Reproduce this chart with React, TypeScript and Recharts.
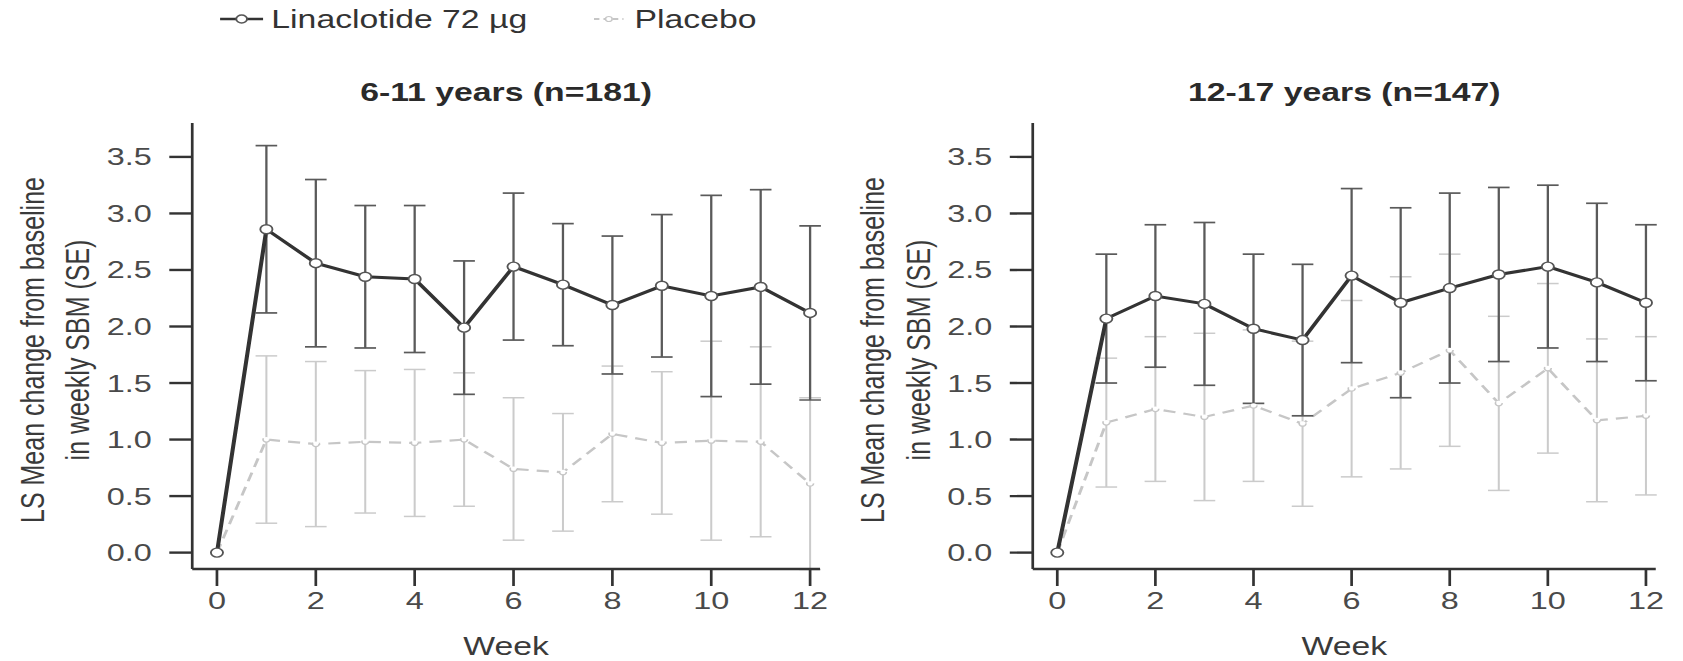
import React from 'react'
import { LineChart, Line, XAxis, YAxis, ErrorBar } from 'recharts'

const weeks = [0, 1, 2, 3, 4, 5, 6, 7, 8, 9, 10, 11, 12]

// 6-11 years (n=181)
const linaYoung = [0, 2.86, 2.56, 2.44, 2.42, 1.99, 2.53, 2.37, 2.19, 2.36, 2.27, 2.35, 2.12]
const linaYoungSE = [null, 0.74, 0.74, 0.63, 0.65, 0.59, 0.65, 0.54, 0.61, 0.63, 0.89, 0.86, 0.77]
const placeboYoung = [0, 1.0, 0.96, 0.98, 0.97, 1.0, 0.74, 0.71, 1.05, 0.97, 0.99, 0.98, 0.61]
const placeboYoungSE = [null, 0.74, 0.73, 0.63, 0.65, 0.59, 0.63, 0.52, 0.6, 0.63, 0.88, 0.84, 0.76]

// 12-17 years (n=147)
const linaOld = [0, 2.07, 2.27, 2.2, 1.98, 1.88, 2.45, 2.21, 2.34, 2.46, 2.53, 2.39, 2.21]
const linaOldSE = [null, 0.57, 0.63, 0.72, 0.66, 0.67, 0.77, 0.84, 0.84, 0.77, 0.72, 0.7, 0.69]
const placeboOld = [0, 1.15, 1.27, 1.2, 1.3, 1.14, 1.45, 1.59, 1.79, 1.32, 1.63, 1.17, 1.21]
const placeboOldSE = [null, 0.57, 0.64, 0.74, 0.67, 0.73, 0.78, 0.85, 0.85, 0.77, 0.75, 0.72, 0.7]

const xTicks = [0, 2, 4, 6, 8, 10, 12]
const yTicks = [0, 0.5, 1, 1.5, 2, 2.5, 3, 3.5]

// the reference figure is stretched sideways, so draw narrow and scale x
const STRETCH = 1.35
const W = 1683 / STRETCH
const H = 661
const FONT = '"Liberation Sans", Arial, Helvetica, sans-serif'
const PLOT_TOP = 123
const PLOT_BOTTOM = 569
const X_AXIS_H = 60
const Y_AXIS_W = 60

const build = (lina, linaSE, pbo, pboSE) =>
  weeks.map((w, i) => ({ week: w, lina: lina[i], linaSE: linaSE[i], pbo: pbo[i], pboSE: pboSE[i] }))

const youngData = build(linaYoung, linaYoungSE, placeboYoung, placeboYoungSE)
const oldData = build(linaOld, linaOldSE, placeboOld, placeboOldSE)

function YTitle({ plotLeft }: { plotLeft: number }) {
  const cy = 350
  return (
    <g fontFamily={FONT} fontSize={25} fill="#3a3a3a">
      <text transform={`translate(${plotLeft - 119},${cy}) rotate(-90)`} textAnchor="middle" dominantBaseline="central">
        LS Mean change from baseline
      </text>
      <text transform={`translate(${plotLeft - 85},${cy}) rotate(-90)`} textAnchor="middle" dominantBaseline="central">
        in weekly SBM (SE)
      </text>
    </g>
  )
}

function XTitle({ cx }: { cx: number }) {
  return (
    <text x={cx} y={646} textAnchor="middle" dominantBaseline="central" fontFamily={FONT} fontSize={25} fill="#3a3a3a">
      Week
    </text>
  )
}

function Panel({ left, width, plotLeft, plotRight, data, title }) {
  const margin = { top: PLOT_TOP, bottom: H - PLOT_BOTTOM - X_AXIS_H, left: plotLeft - Y_AXIS_W, right: width - plotRight }
  return (
    <div style={{ position: 'absolute', left, top: 0, width, height: H }}>
      <div style={{ position: 'absolute', left: (plotLeft + plotRight) / 2 - 250, width: 500, top: 76, textAlign: 'center', fontFamily: FONT, fontWeight: 'bold', fontSize: 25, lineHeight: '32px', color: '#2a2a2a' }}>
        {title}
      </div>
      <LineChart width={width} height={H} data={data} margin={margin}>
        <XAxis
          type="number"
          dataKey="week"
          domain={[-0.5, 12.2]}
          ticks={xTicks}
          interval={0}
          allowDataOverflow
          height={X_AXIS_H}
          tickSize={17}
          tickMargin={6}
          tick={{ fontSize: 24, fill: '#4a4a4a', fontFamily: FONT }}
          axisLine={{ stroke: '#333', strokeWidth: 2.4 }}
          tickLine={{ stroke: '#333', strokeWidth: 2 }}
          label={<XTitle cx={(plotLeft + plotRight) / 2} />}
        />
        <YAxis
          type="number"
          domain={[-0.145, 3.8]}
          ticks={yTicks}
          interval={0}
          allowDataOverflow
          width={Y_AXIS_W}
          tickSize={17}
          tickMargin={13}
          tickFormatter={(v) => v.toFixed(1)}
          tick={{ fontSize: 24, fill: '#4a4a4a', fontFamily: FONT }}
          axisLine={{ stroke: '#333', strokeWidth: 2 }}
          tickLine={{ stroke: '#333', strokeWidth: 2.4 }}
          label={<YTitle plotLeft={plotLeft} />}
        />
        <Line
          dataKey="pbo"
          stroke="#c6c6c6"
          strokeWidth={2.2}
          strokeDasharray="9 6"
          dot={{ r: 2.5, fill: '#fff', stroke: '#c6c6c6', strokeWidth: 1.2 }}
          isAnimationActive={false}
        >
          <ErrorBar dataKey="pboSE" width={8} stroke="#cbcbcb" strokeWidth={1.5} direction="y" isAnimationActive={false} />
        </Line>
        <Line
          dataKey="lina"
          stroke="#333"
          strokeWidth={3}
          dot={{ r: 4.5, fill: '#fff', stroke: '#555', strokeWidth: 1.4 }}
          isAnimationActive={false}
        >
          <ErrorBar dataKey="linaSE" width={8} stroke="#5a5a5a" strokeWidth={1.7} direction="y" isAnimationActive={false} />
        </Line>
      </LineChart>
    </div>
  )
}

function LegendRow() {
  const text = { position: 'absolute' as const, top: 3, fontFamily: FONT, fontSize: 25, lineHeight: '32px', color: '#333' }
  return (
    <>
      <svg style={{ position: 'absolute', left: 163, top: 9 }} width={32} height={20}>
        <line x1={0} y1={10} x2={32} y2={10} stroke="#333" strokeWidth={2.4} />
        <circle cx={16} cy={10} r={4} fill="#fff" stroke="#555" strokeWidth={1.4} />
      </svg>
      <div style={{ ...text, left: 201 }}>Linaclotide 72 µg</div>
      <svg style={{ position: 'absolute', left: 440, top: 9 }} width={22} height={20}>
        <line x1={0} y1={10} x2={22} y2={10} stroke="#c6c6c6" strokeWidth={2} strokeDasharray="4 3" />
        <circle cx={11} cy={10} r={2.5} fill="#fff" stroke="#c6c6c6" strokeWidth={1.2} />
      </svg>
      <div style={{ ...text, left: 470 }}>Placebo</div>
    </>
  )
}

export default function App() {
  return (
    <div style={{ position: 'absolute', left: 0, top: 0, width: 1683, height: H, background: '#fff', overflow: 'hidden' }}>
      <div style={{ position: 'absolute', left: 0, top: 0, width: W, height: H, transform: `scaleX(${STRETCH})`, transformOrigin: '0 0' }}>
        <LegendRow />
        <Panel left={0} width={625} plotLeft={142.4} plotRight={607.4} data={youngData} title="6-11 years (n=181)" />
        <Panel left={625} width={W - 625} plotLeft={140} plotRight={601.5} data={oldData} title="12-17 years (n=147)" />
      </div>
    </div>
  )
}
